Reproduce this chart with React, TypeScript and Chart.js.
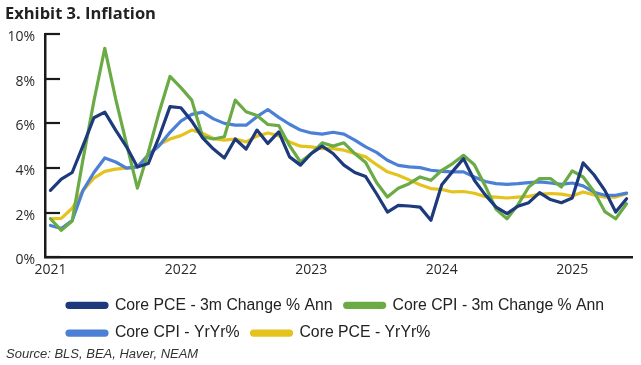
import React, { useEffect, useRef } from "react";
import { Chart, registerables } from "chart.js";

Chart.register(...registerables);

const months = [
  "Jan 2021", "Feb 2021", "Mar 2021", "Apr 2021", "May 2021", "Jun 2021", "Jul 2021", "Aug 2021", "Sep 2021", "Oct 2021", "Nov 2021", "Dec 2021",
  "Jan 2022", "Feb 2022", "Mar 2022", "Apr 2022", "May 2022", "Jun 2022", "Jul 2022", "Aug 2022", "Sep 2022", "Oct 2022", "Nov 2022", "Dec 2022",
  "Jan 2023", "Feb 2023", "Mar 2023", "Apr 2023", "May 2023", "Jun 2023", "Jul 2023", "Aug 2023", "Sep 2023", "Oct 2023", "Nov 2023", "Dec 2023",
  "Jan 2024", "Feb 2024", "Mar 2024", "Apr 2024", "May 2024", "Jun 2024", "Jul 2024", "Aug 2024", "Sep 2024", "Oct 2024", "Nov 2024", "Dec 2024",
  "Jan 2025", "Feb 2025", "Mar 2025", "Apr 2025", "May 2025", "Jun 2025",
];

const corePce3mAnn = [
  3.0, 3.5, 3.8, 5.0, 6.25, 6.5, 5.7, 4.95, 4.05, 4.2, 5.4, 6.75,
  6.7, 6.1, 5.35, 4.85, 4.45, 5.3, 4.85, 5.7, 5.1, 5.62, 4.5, 4.13,
  4.65, 4.98, 4.65, 4.13, 3.8, 3.62, 2.85, 2.03, 2.33, 2.3, 2.25, 1.66,
  3.25, 3.85, 4.42, 3.45, 2.8, 2.25, 1.96, 2.29, 2.45, 2.9, 2.59, 2.45,
  2.66, 4.23, 3.7, 3.0, 2.03, 2.63,
];

const coreCpi3mAnn = [
  1.73, 1.21, 1.63, 4.4, 7.0, 9.36, 7.1, 5.08, 3.1, 4.7, 6.5, 8.1,
  7.6, 7.04, 5.4, 5.3, 5.4, 7.04, 6.52, 6.35, 5.95, 5.9, 5.0, 4.27,
  4.65, 5.13, 4.98, 5.13, 4.65, 4.25, 3.35, 2.7, 3.1, 3.3, 3.6, 3.45,
  3.9, 4.2, 4.57, 4.15, 3.2, 2.15, 1.73, 2.35, 3.15, 3.53, 3.53, 3.15,
  3.87, 3.6, 2.95, 2.05, 1.73, 2.4,
];

const coreCpiYoY = [
  1.43, 1.29, 1.65, 3.0, 3.8, 4.45, 4.27, 4.0, 4.05, 4.57, 5.0, 5.6,
  6.1, 6.4, 6.5, 6.2, 6.0, 5.92, 5.92, 6.3, 6.62, 6.27, 5.96, 5.7,
  5.57, 5.52, 5.6, 5.52, 5.25, 4.95, 4.7, 4.35, 4.12, 4.05, 4.02, 3.9,
  3.85, 3.83, 3.83, 3.6, 3.4, 3.3, 3.27, 3.3, 3.35, 3.38, 3.33, 3.27,
  3.33, 3.2, 2.92, 2.78, 2.78, 2.88,
];

const corePceYoY = [
  1.73, 1.75, 2.2, 3.0, 3.55, 3.85, 3.95, 4.0, 4.05, 4.6, 5.05, 5.3,
  5.45, 5.7, 5.55, 5.32, 5.25, 5.3, 5.17, 5.43, 5.57, 5.45, 5.17, 4.98,
  4.95, 4.87, 4.87, 4.8, 4.65, 4.5, 4.15, 3.83, 3.68, 3.47, 3.25, 3.08,
  3.04, 2.93, 2.95, 2.87, 2.72, 2.7, 2.66, 2.7, 2.73, 2.83, 2.86, 2.83,
  2.75, 2.93, 2.8, 2.7, 2.7, 2.85,
];

const seriesNames = [
  "Core PCE - 3m Change % Ann",
  "Core CPI - 3m Change % Ann",
  "Core CPI - YrYr%",
  "Core PCE - YrYr%",
];

const seriesColors = ["#1d3a7c", "#6aab45", "#4b80d6", "#e4c31e"];

const innerTicks = {
  id: "innerTicks",
  beforeDatasetsDraw(chart: any) {
    const y = chart.scales.y;
    const ctx = chart.ctx;
    const left = chart.chartArea.left;
    ctx.save();
    ctx.strokeStyle = "#1a1a1a";
    ctx.lineWidth = 2.2;
    y.ticks.forEach((_t: any, i: number) => {
      const py = Math.round(y.getPixelForTick(i));
      ctx.beginPath();
      ctx.moveTo(left, py);
      ctx.lineTo(left + 15, py);
      ctx.stroke();
    });
    ctx.restore();
  },
};

const legendShift = {
  id: "legendShift",
  beforeDraw(chart: any) {
    const lg = chart.legend;
    if (lg) lg.left = chart.chartArea.left + 10;
  },
};

export default function App() {
  const ref = useRef<HTMLCanvasElement>(null);

  useEffect(() => {
    if (!ref.current) return;
    const data = [corePce3mAnn, coreCpi3mAnn, coreCpiYoY, corePceYoY];
    const chart = new Chart(ref.current, {
      type: "line",
      data: {
        labels: months,
        datasets: data.map((d, i) => ({
          label: seriesNames[i],
          data: d,
          borderColor: seriesColors[i],
          backgroundColor: seriesColors[i],
          borderWidth: 3.2,
          pointRadius: 0,
          tension: 0,
          borderJoinStyle: "round" as const,
          borderCapStyle: "round" as const,
        })),
      },
      options: {
        responsive: false,
        animation: false,
        layout: { padding: { left: 7, right: 9, top: 34, bottom: 14 } },
        plugins: {
          tooltip: { enabled: false },
          title: { display: false },
          legend: {
            position: "bottom",
            align: "start",
            fullSize: false,
            labels: {
              boxWidth: 40,
              boxHeight: 4,
              padding: 12,
              color: "#222",
              useBorderRadius: true,
              borderRadius: 2,
              font: { family: "Liberation Sans", size: 15.8 },
            },
          },
        },
        scales: {
          x: {
            type: "category",
            offset: true,
            border: { display: true, color: "#1a1a1a", width: 2.5 },
            grid: { display: false, drawTicks: false },
            afterFit: (scale: any) => {
              scale.height = 28;
            },
            ticks: {
              autoSkip: false,
              maxRotation: 0,
              padding: 4,
              color: "#2a2a2a",
              font: { family: "Open Sans", size: 14 },
              callback: (_v: any, idx: number) =>
                months[idx].startsWith("Jan") ? months[idx].slice(4) : "",
            },
          },
          y: {
            min: 0,
            max: 10,
            border: { display: true, color: "#1a1a1a", width: 2.5 },
            grid: { drawOnChartArea: false, drawTicks: false },
            afterFit: (scale: any) => {
              scale.width = 38;
            },
            ticks: {
              stepSize: 2,
              padding: 10,
              labelOffset: 3,
              color: "#2a2a2a",
              font: { family: "Open Sans", size: 14 },
              callback: (v: any) => `${v}%`,
            },
          },
        },
      },
      plugins: [innerTicks, legendShift],
    });
    return () => chart.destroy();
  }, []);

  return (
    <div style={{ position: "absolute", left: 0, top: 0, width: 641, height: 365, background: "#fff" }}>
      <canvas ref={ref} width={641} height={365} style={{ position: "absolute", left: 0, top: 0, width: 641, height: 365 }} />
      <div
        style={{
          position: "absolute",
          left: 5,
          top: 1,
          fontFamily: "'Open Sans', sans-serif",
          fontWeight: 700,
          fontSize: 16.5,
          color: "#222",
          whiteSpace: "nowrap",
        }}
      >
        Exhibit 3. Inflation
      </div>
      <div
        style={{
          position: "absolute",
          left: 6,
          top: 346,
          fontFamily: "'Liberation Sans', sans-serif",
          fontStyle: "italic",
          fontSize: 13,
          color: "#333",
          whiteSpace: "nowrap",
        }}
      >
        Source: BLS, BEA, Haver, NEAM
      </div>
    </div>
  );
}
